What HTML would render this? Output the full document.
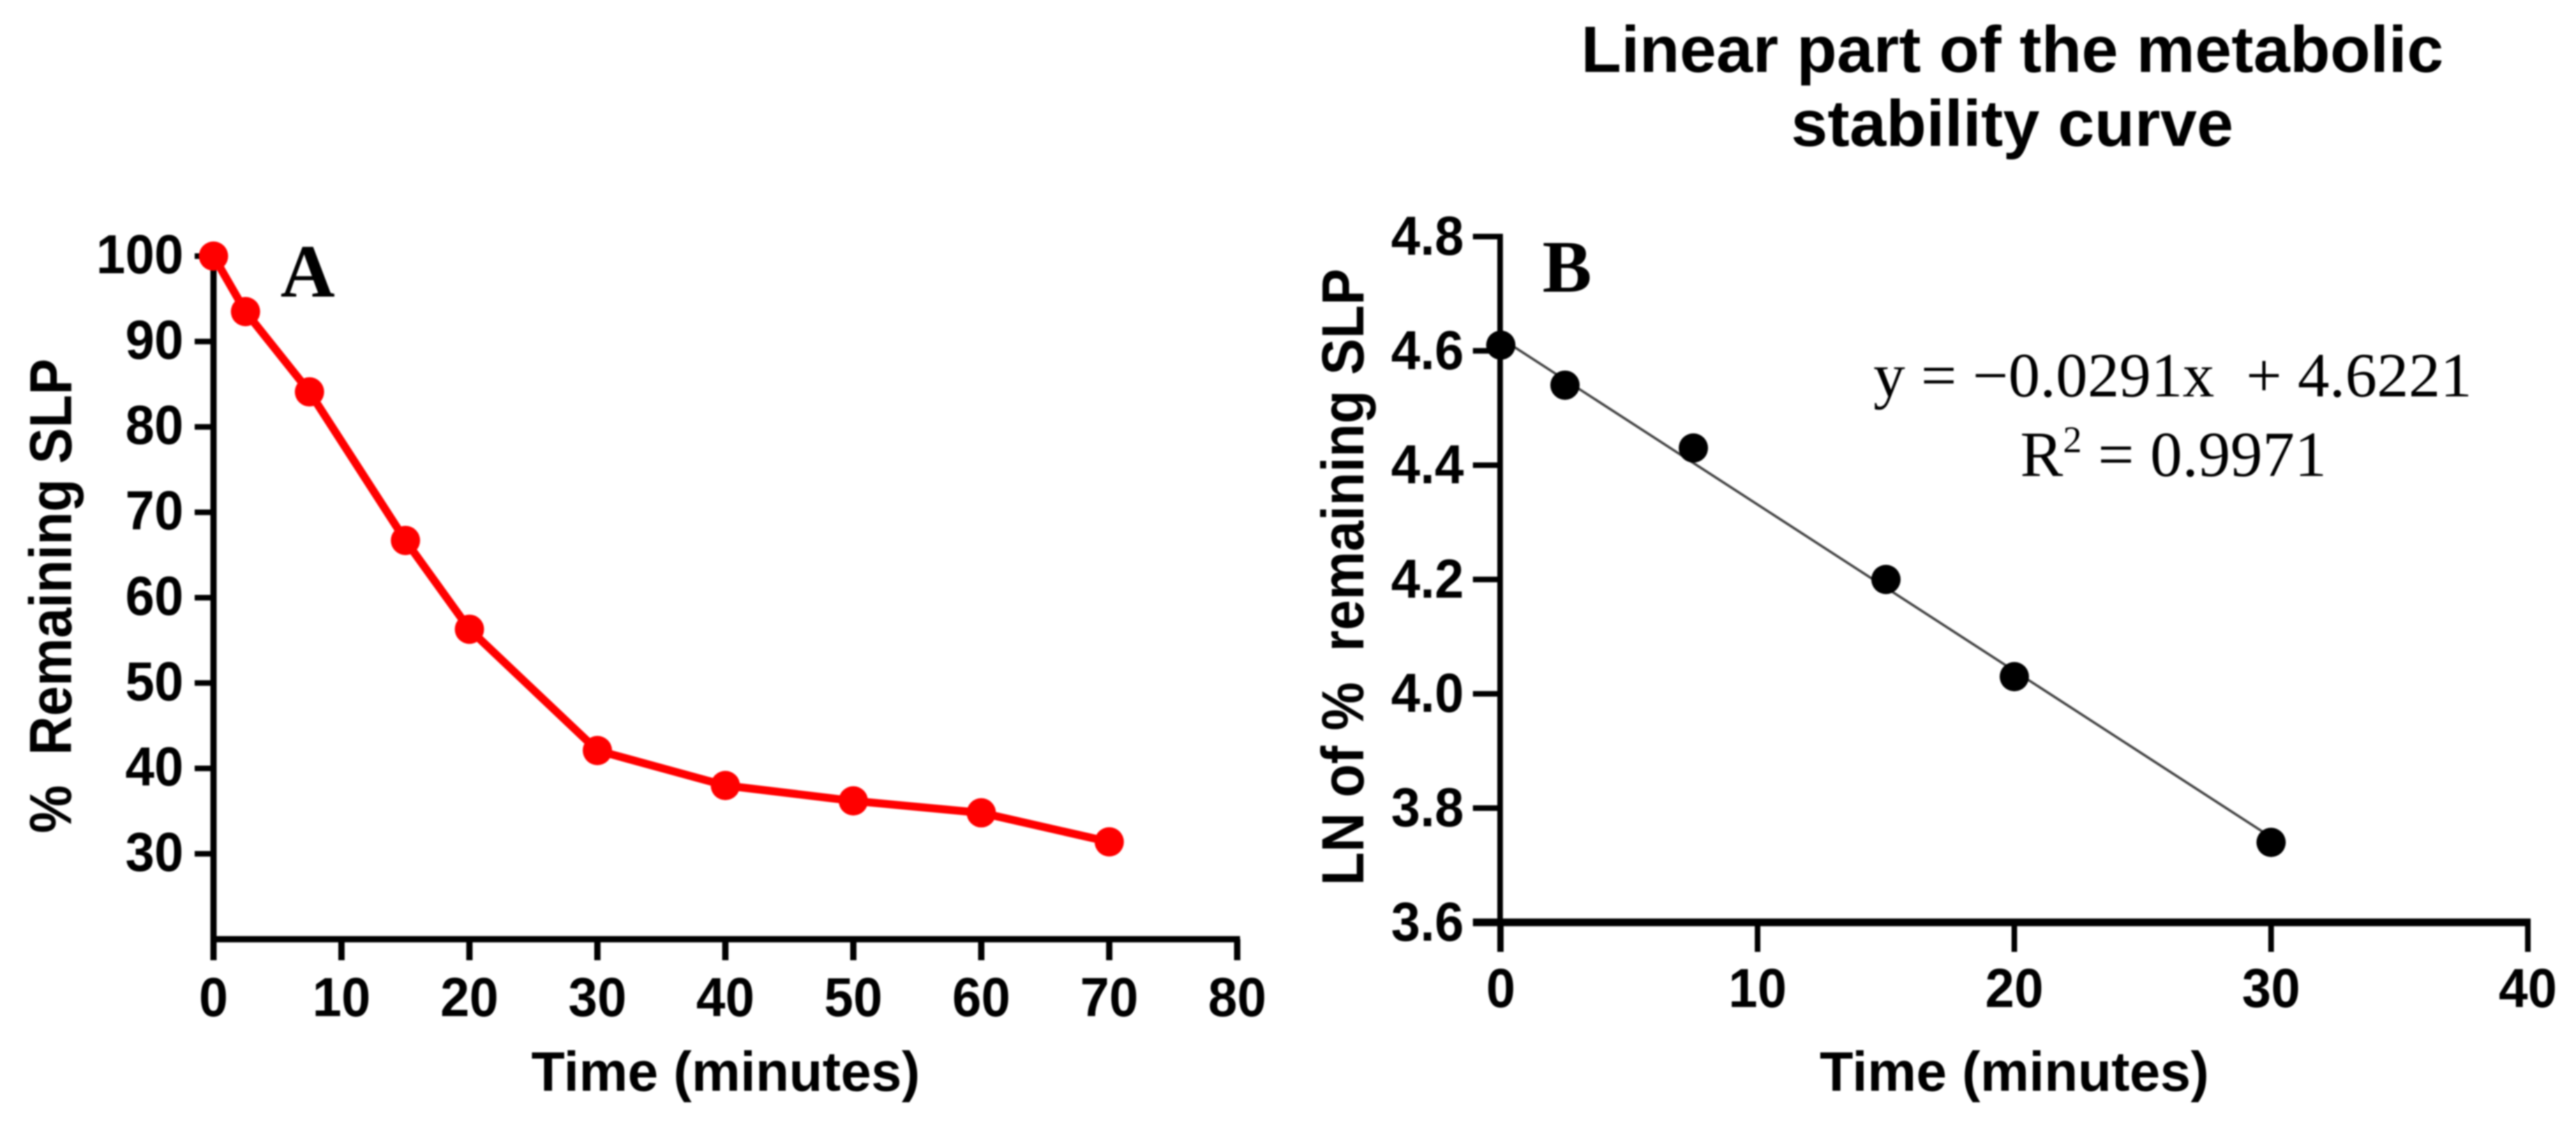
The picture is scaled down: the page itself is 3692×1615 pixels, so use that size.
<!DOCTYPE html>
<html lang="en">
<head>
<meta charset="utf-8">
<title>Metabolic stability of SLP</title>
<style>
html,body{margin:0;padding:0;background:#fff;width:3692px;height:1615px;overflow:hidden}
svg{display:block;filter:blur(1.1px)}
.sans{font-family:"Liberation Sans",Arial,sans-serif;font-weight:700;fill:#000}
.serif{font-family:"Liberation Serif","Times New Roman",serif;fill:#000}
</style>
</head>
<body>
<svg id="figure" xmlns="http://www.w3.org/2000/svg" width="3692" height="1615" viewBox="0 0 3692 1615">
  <rect x="0" y="0" width="3692" height="1615" fill="#fff"/>
  <g id="panel-a"></g>
  <g id="panel-b"></g>

  <text class="sans" x="1040" y="1563" font-size="80" text-anchor="middle" textLength="557" lengthAdjust="spacingAndGlyphs">Time (minutes)</text>
  <text class="sans" transform="translate(102 854) rotate(-90)" font-size="85" text-anchor="middle" textLength="680" lengthAdjust="spacingAndGlyphs">%&#160;&#160;Remaining SLP</text>
  <text class="serif" font-weight="700" x="441" y="425" font-size="108" text-anchor="middle">A</text>

  <text class="sans" x="2887" y="1563" font-size="80" text-anchor="middle" textLength="558" lengthAdjust="spacingAndGlyphs">Time (minutes)</text>
  <text class="sans" transform="translate(1954 827) rotate(-90)" font-size="85" text-anchor="middle" textLength="884" lengthAdjust="spacingAndGlyphs">LN of %&#160;&#160;remaining SLP</text>
  <text class="serif" font-weight="700" x="2246" y="418" font-size="106" text-anchor="middle">B</text>

  <text class="sans" x="2884" y="103" font-size="94" text-anchor="middle" textLength="1236" lengthAdjust="spacingAndGlyphs">Linear part of the metabolic</text>
  <text class="sans" x="2884" y="209" font-size="94" text-anchor="middle" textLength="634" lengthAdjust="spacingAndGlyphs">stability curve</text>

  <text class="serif" x="3114" y="568" font-size="90" text-anchor="middle" textLength="858" lengthAdjust="spacingAndGlyphs">y = −0.0291x&#160;&#160;+ 4.6221</text>
  <text class="serif" x="3115" y="682" font-size="92" text-anchor="middle">R<tspan font-size="54" dy="-34">2</tspan><tspan dy="34"> = 0.9971</tspan></text>
</svg>
<script>
// Panel A data
const timeA = [0, 2.5, 7.5, 15, 20, 30, 40, 50, 60, 70];
const remainingA = [100, 93.5, 84.1, 66.7, 56.3, 42.1, 38, 36.2, 34.8, 31.4];
const xTicksA = [0, 10, 20, 30, 40, 50, 60, 70, 80];
const yTicksA = [100, 90, 80, 70, 60, 50, 40, 30];

// Panel B data
const timeB = [0, 2.5, 7.5, 15, 20, 30];
const lnRemainingB = [4.61, 4.54, 4.43, 4.2, 4.03, 3.74];
const xTicksB = [0, 10, 20, 30, 40];
const yTicksB = ['4.8', '4.6', '4.4', '4.2', '4.0', '3.8', '3.6'];
const fitSlope = -0.0291;
const fitIntercept = 4.6221;

const NS = 'http://www.w3.org/2000/svg';
const panelA = document.getElementById('panel-a');
const panelB = document.getElementById('panel-b');

// Axis functions
function xA(v) { return 306 + 18.34 * v; }
function yA(v) { return 367 + (100 - v) * 12.236; }
function xB(v) { return 2151 + 36.8 * v; }
function yB(v) { return 339 + (4.8 - v) * 819; }

function mk(parent, tag, attrs, text) {
  const el = document.createElementNS(NS, tag);
  for (const k in attrs) el.setAttribute(k, attrs[k]);
  if (text !== undefined) el.textContent = text;
  parent.appendChild(el);
  return el;
}
function seg(parent, x1, y1, x2, y2, w, color) {
  return mk(parent, 'line', { x1: x1, y1: y1, x2: x2, y2: y2, stroke: color || '#000', 'stroke-width': w });
}
// Width of a numeric tick label: taller glyphs than the natural font width
function labelWidth(s) {
  let w = 0;
  for (const c of s) w += (c === '.') ? 20.8 : 41.7;
  return w;
}
function tickText(parent, x, y, anchor, s) {
  return mk(parent, 'text', {
    x: x, y: y, 'font-size': 79, 'text-anchor': anchor, class: 'sans',
    textLength: labelWidth(s), lengthAdjust: 'spacingAndGlyphs'
  }, s);
}
let el;

/* ---------- Panel A ---------- */
el = seg(panelA, xA(0), yA(100) - 4, xA(0), 1376, 9);


el = seg(panelA, xA(0) - 4, yA(20), xA(80) + 4, yA(20), 9);



yTicksA.forEach(function (t) {
  el = seg(panelA, 279, yA(t), xA(0), yA(t), 8);
  
  
  el = tickText(panelA, 263, yA(t) + 24.5, 'end', String(t));
  
  
});
xTicksA.forEach(function (t) {
  el = seg(panelA, xA(t), yA(20), xA(t), 1376, 9);
  
  
  el = tickText(panelA, xA(t), 1456, 'middle', String(t));
  
  
});

el = mk(panelA, 'polyline', {
  points: timeA.map(function (t, i) { return xA(t) + ',' + yA(remainingA[i]); }).join(' '),
  fill: 'none', stroke: '#ff0000', 'stroke-width': 11.5, 'stroke-linejoin': 'round'
});



timeA.forEach(function (t, i) {
  el = mk(panelA, 'circle', { cx: xA(t), cy: yA(remainingA[i]), r: 21, fill: '#ff0000' });
  
  
});

/* ---------- Panel B ---------- */
el = seg(panelB, xB(0) - 1, yB(4.8) - 4, xB(0) - 1, 1364, 8);


el = seg(panelB, 2111, yB(3.6), xB(40) + 4, yB(3.6), 11);



yTicksB.forEach(function (t) {
  const v = parseFloat(t);
  el = seg(panelB, 2111, yB(v), xB(0), yB(v), 8);
  
  
  el = tickText(panelB, 2098, yB(v) + 26, 'end', t);
  
  
});
xTicksB.forEach(function (t) {
  el = seg(panelB, xB(t), yB(3.6), xB(t), 1364, 8);
  
  
  el = tickText(panelB, xB(t), 1443, 'middle', String(t));
  
  
});

const fitEnd = timeB[timeB.length - 1];
el = seg(panelB, xB(0), yB(fitIntercept), xB(fitEnd), yB(fitSlope * fitEnd + fitIntercept), 3.5, '#444');



timeB.forEach(function (t, i) {
  el = mk(panelB, 'circle', { cx: xB(t), cy: yB(lnRemainingB[i]), r: 21, fill: '#000' });
  
  
});
</script>
</body>
</html>
